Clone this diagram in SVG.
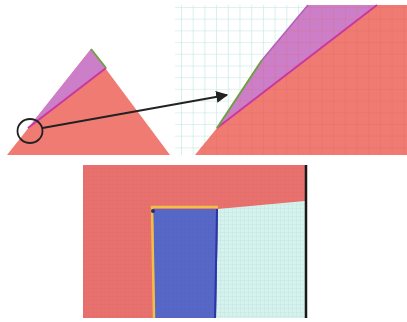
<svg xmlns="http://www.w3.org/2000/svg" width="407" height="322" viewBox="0 0 407 322">
<defs>
<pattern id="grid" width="11.7" height="11.7" patternUnits="userSpaceOnUse" x="181" y="7">
<path d="M0 0H11.7M0 0V11.7" fill="none" stroke="#bfe6e0" stroke-width="1.2"/>
</pattern>
<pattern id="gridR" width="11.7" height="11.7" patternUnits="userSpaceOnUse" x="181" y="7">
<path d="M0 0H11.7M0 0V11.7" fill="none" stroke="#d8605c" stroke-width="0.8" opacity="0.5"/>
</pattern>
<pattern id="fineR" width="4" height="4" patternUnits="userSpaceOnUse">
<path d="M0 0H4M0 0V4" fill="none" stroke="#d66460" stroke-width="0.6" opacity="0.5"/>
</pattern>
<pattern id="fineC" width="4" height="4" patternUnits="userSpaceOnUse">
<path d="M0 0H4M0 0V4" fill="none" stroke="#b3e0d8" stroke-width="0.6"/>
</pattern>
<pattern id="fineB" width="4" height="4" patternUnits="userSpaceOnUse">
<path d="M0 0H4M0 0V4" fill="none" stroke="#4a5bbb" stroke-width="0.6" opacity="0.5"/>
</pattern>
<marker id="arr" viewBox="0 0 10 10" refX="9" refY="5" markerWidth="6" markerHeight="6" orient="auto">
<path d="M0 0L10 5L0 10z" fill="#222"/>
</marker>
<style>
.red{fill:#f07b73}
.purple{fill:#cc7fc8}
.mag{stroke:#c8389e;stroke-width:2;fill:none}
.green{stroke:#6f9e45;stroke-width:2;fill:none}
</style>
</defs>
<rect width="407" height="322" fill="#fff"/>

<g id="left-triangle">
<polygon class="red" points="7,155 91,49 170,155"/>
<polygon class="purple" points="28,128 91,49 106,68"/>
<line class="mag" x1="28" y1="128" x2="106" y2="68"/>
<line class="green" x1="91" y1="49" x2="106" y2="68"/>
</g>

<g id="zoom-panel">
<rect x="175" y="5" width="232" height="150" fill="#fff"/>
<rect x="175" y="5" width="232" height="150" fill="url(#grid)"/>
<polygon class="red" points="195,155 217,128 377,5 407,5 407,155"/>
<polygon points="195,155 217,128 377,5 407,5 407,155" fill="url(#gridR)"/>
<polygon class="purple" points="217,128 262,60 308,5 377,5"/>
<polygon points="217,128 262,60 308,5 377,5" fill="url(#gridR)"/>
<line class="mag" x1="217" y1="128" x2="377" y2="5"/>
<line x1="262" y1="60" x2="308" y2="5" stroke="#b060b8" stroke-width="1.5"/>
<line class="green" x1="217" y1="128" x2="262" y2="60"/>
</g>

<g id="bottom-panel">
<rect x="83" y="165" width="224" height="153" fill="#e8716d"/>
<rect x="83" y="165" width="224" height="153" fill="url(#fineR)"/>
<polygon points="218,209 305,201 305,318 216,318" fill="#d5f2ec"/>
<polygon points="218,209 305,201 305,318 216,318" fill="url(#fineC)"/>
<polygon points="153,209 218,209 216,318 155,318" fill="#5767c6"/>
<polygon points="153,209 218,209 216,318 155,318" fill="url(#fineB)"/>
<polyline points="154,318 152,207 218,207" fill="none" stroke="#f0bf45" stroke-width="2.5"/>
<line x1="217" y1="209" x2="215" y2="318" stroke="#2a36a8" stroke-width="2"/>
<circle cx="153" cy="211" r="2" fill="#2a2a70"/>
<line x1="306" y1="165" x2="306" y2="318" stroke="#1a1a1a" stroke-width="2.5"/>
</g>

<g id="connectors">
<ellipse cx="30" cy="131" rx="12.5" ry="12" fill="none" stroke="#222" stroke-width="1.8"/>
<line x1="42.5" y1="128" x2="227" y2="95" stroke="#222" stroke-width="2" marker-end="url(#arr)"/>
</g>
</svg>
